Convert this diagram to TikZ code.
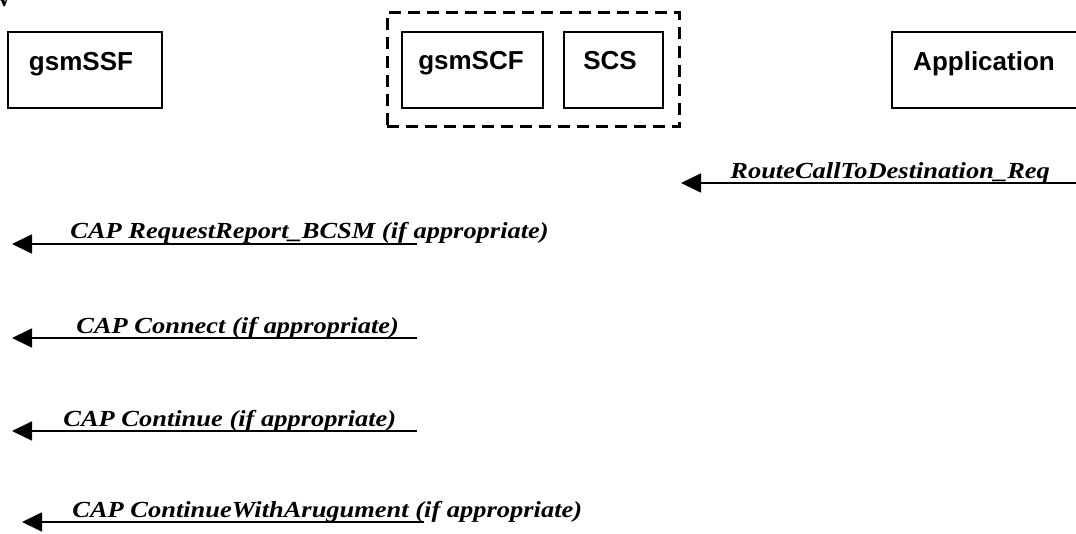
\documentclass[tikz,border=0pt]{standalone}
\usepackage{fontspec}
\setmainfont{Liberation Serif}
\newfontfamily\entityfont{Liberation Sans}
\newfontfamily\msgfont[FakeStretch=1.15]{Liberation Serif}
\usetikzlibrary{arrows.meta,positioning}

\tikzset{
  entity/.style={draw,line width=0.85pt,minimum width=#1,minimum height=38pt,inner sep=0pt},
  entity/.default=70pt,
  entitytext/.style={font=\entityfont\bfseries\fontsize{13}{15}\selectfont,anchor=base,inner sep=0pt},
  group/.style={draw,line width=1.5pt,dash pattern=on 6pt off 3.5pt,minimum width=146pt,minimum height=57pt,inner sep=0pt},
  msg/.style={line width=0.9pt,-{Triangle[length=10pt,width=9.5pt]}},
  msgtext/.style={font=\msgfont\bfseries\itshape\fontsize{11.5}{14}\selectfont,anchor=base west,inner sep=0pt},
}

\begin{document}
\begin{tikzpicture}[x=0.5pt,y=-0.5pt]
  \useasboundingbox (0,0) rectangle (1076,534);
  % cut off heading
  \node[font=\bfseries\fontsize{13}{15}\selectfont,anchor=base west,inner sep=0pt] (head) at (-9,7) {w};
  % entities
  \node[group] (scfgroup) at (533,70) {};
  \node[entity=77pt] (ssf) at (85,70) {};
  \node[entity=70.5pt] (scf) at (472.5,70) {};
  \node[entity=49.5pt] (scs) at (613.5,70) {};
  \node[entity=100pt] (app) at (992,70) {};
  \node[entitytext] (ssflabel) at (81,71) {gsmSSF};
  \node[entitytext] (scflabel) at (471,70) {gsmSCF};
  \node[entitytext] (scslabel) at (610,70) {SCS};
  \node[entitytext] (applabel) at (984,71) {Application};
  % messages
  \coordinate (m1s) at (1085,183);
  \coordinate (m1e) at (681,183);
  \draw[msg] (m1s) -- (m1e);
  \node[msgtext] (m1) at (730,179) {RouteCallToDestination\_Req};
  \coordinate (m2s) at (417,244);
  \coordinate (m2e) at (12,244);
  \draw[msg] (m2s) -- (m2e);
  \node[msgtext] (m2) at (70,239) {CAP RequestReport\_BCSM (if appropriate)};
  \coordinate (m3s) at (417,338);
  \coordinate (m3e) at (12,338);
  \draw[msg] (m3s) -- (m3e);
  \node[msgtext] (m3) at (76,333) {CAP Connect (if appropriate)};
  \coordinate (m4s) at (417,431);
  \coordinate (m4e) at (12,431);
  \draw[msg] (m4s) -- (m4e);
  \node[msgtext] (m4) at (63,426) {CAP Continue (if appropriate)};
  \coordinate (m5s) at (424,522);
  \coordinate (m5e) at (22,522);
  \draw[msg] (m5s) -- (m5e);
  \node[msgtext] (m5) at (72,517) {CAP ContinueWithArugument (if appropriate)};
\end{tikzpicture}
\end{document}
